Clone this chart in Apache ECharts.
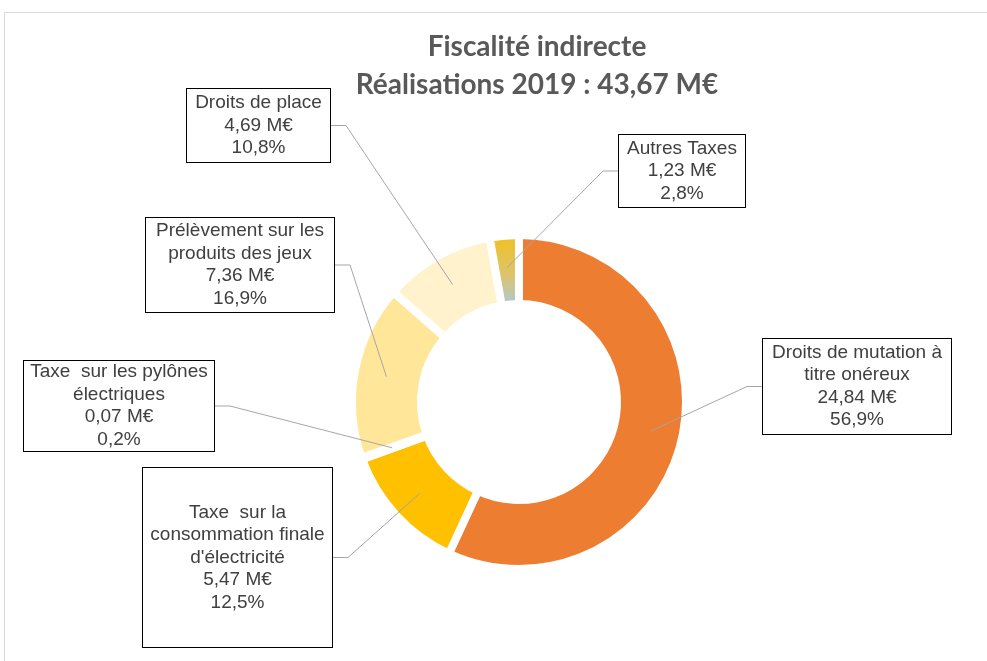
<!DOCTYPE html>
<html><head><meta charset="utf-8">
<script src="https://cdn.jsdelivr.net/npm/echarts@6/dist/echarts.min.js"></script>
<style>
html,body{margin:0;padding:0;background:#fff}
#wrap{position:relative;width:987px;height:661px;overflow:hidden}
#frame{position:absolute;left:4px;top:12px;width:1000px;height:700px;border-top:1px solid #D9D9D9;border-left:1px solid #D9D9D9}
#chart{position:absolute;left:0;top:0;width:987px;height:661px}
</style></head>
<body><div id="wrap"><div id="frame"></div><div id="chart"></div></div>
<script>
const categories = ['Droits de mutation à titre onéreux', "Taxe sur la consommation finale d'électricité", 'Taxe sur les pylônes électriques', 'Prélèvement sur les produits des jeux', 'Droits de place', 'Autres Taxes'];
const labelTexts = ['Droits de mutation à\ntitre onéreux', "Taxe  sur la\nconsommation finale\nd'électricité", 'Taxe  sur les pylônes\nélectriques', 'Prélèvement sur les\nproduits des jeux', 'Droits de place', 'Autres Taxes'];
const values = [24.84, 5.47, 0.07, 7.36, 4.69, 1.23];
const percents = [56.9, 12.5, 0.2, 16.9, 10.8, 2.8];
const titleLines = ['Fiscalité indirecte', 'Réalisations 2019 : 43,67 M€'];

// layout (not data)
const labelBoxes = [
  {cx: 857, cy: 386.5, w: 190, h: 97},
  {cx: 237.5, cy: 557.5, w: 191, h: 181},
  {cx: 119, cy: 406, w: 192, h: 92},
  {cx: 240, cy: 265, w: 190, h: 96},
  {cx: 258.5, cy: 125.5, w: 145, h: 75},
  {cx: 682, cy: 171, w: 128, h: 74}
];
const LH = 22.5;
const colors = ['#ED7D31', '#FFC000', '#F4B183', '#FFE699', '#FFF2CC',
  new echarts.graphic.LinearGradient(0, 0, 0, 1, [
    {offset: 0, color: '#F4C018'}, {offset: 0.55, color: '#DCC46A'}, {offset: 1, color: '#A9C9E2'}
  ])];

const fmtNum = v => v.toFixed(2).replace('.', ',');
const fmtPct = p => p.toFixed(1).replace('.', ',');

const center = [519, 402];

const visibleData = categories.map((name, i) => ({
  name, value: values[i], itemStyle: {color: colors[i]}
}));

const labelData = categories.map((name, i) => {
  const b = labelBoxes[i];
  const text = labelTexts[i] + '\n' + fmtNum(values[i]) + ' M€\n' + fmtPct(percents[i]) + '%';
  const n = text.split('\n').length;
  const pv = Math.max(0, (b.h - n * LH) / 2 - 1);
  return {
    name, value: values[i],
    itemStyle: {color: 'rgba(0,0,0,0)', borderWidth: 0},
    label: {width: b.w - 2, padding: [pv, 0, pv, 0]}
  };
});

const chart = echarts.init(document.getElementById('chart'), null, {renderer: 'canvas'});
chart.setOption({
  animation: false,
  backgroundColor: 'transparent',
  title: {
    text: titleLines.join('\n'),
    left: 532, top: 23, textAlign: 'center',
    textStyle: {fontFamily: 'Lato', fontWeight: 'bold', fontSize: 28, color: '#595959', lineHeight: 38}
  },
  series: [
    {
      type: 'pie', silent: true, center, radius: [98, 167], z: 1,
      startAngle: 90, clockwise: true,
      emphasis: {disabled: true},
      itemStyle: {borderColor: '#fff', borderWidth: 8},
      label: {show: false}, labelLine: {show: false},
      data: visibleData
    },
    {
      type: 'pie', silent: true, center, radius: [0, 135], z: 5,
      startAngle: 90, clockwise: true,
      avoidLabelOverlap: false,
      emphasis: {disabled: true},
      label: {
        show: true, position: 'outside',
        formatter: p => labelTexts[p.dataIndex] + '\n' + fmtNum(values[p.dataIndex]) + ' M€\n' + fmtPct(percents[p.dataIndex]) + '%',
        fontFamily: 'Liberation Sans', fontSize: 19, lineHeight: LH, color: '#404040',
        align: 'center',
        backgroundColor: '#fff', borderColor: '#000', borderWidth: 1
      },
      labelLine: {show: true, length: 10, length2: 15, lineStyle: {color: '#A6A6A6', width: 1}},
      labelLayout: p => {
        const b = labelBoxes[p.dataIndex];
        return {x: b.cx, y: b.cy, align: 'center', verticalAlign: 'middle'};
      },
      data: labelData
    }
  ]
});
</script>
</body></html>
